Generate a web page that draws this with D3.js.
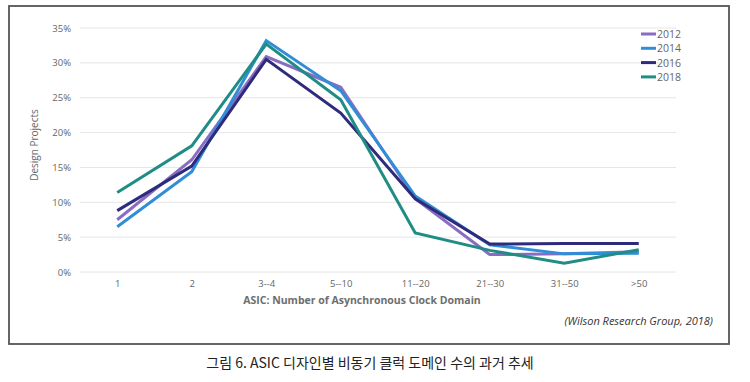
<!DOCTYPE html>
<html><head><meta charset="utf-8">
<script src="https://cdn.jsdelivr.net/npm/d3@7"></script>
<style>body{margin:0;background:#fff}svg{display:block}</style>
</head><body>
<script>
const categories = ["1","2","3--4","5--10","11--20","21--30","31--50",">50"];
const seriesNames = ["2012","2014","2016","2018"];
const v2012 = [7.5,16.1,30.9,26.5,10.5,2.5,2.6,2.9];
const v2014 = [6.5,14.4,33.2,26.0,10.9,3.9,2.6,2.7];
const v2016 = [8.8,15.2,30.5,22.8,10.5,4.0,4.1,4.1];
const v2018 = [11.4,18.1,32.7,24.7,5.6,3.1,1.25,3.2];
const yTicks = [0,5,10,15,20,25,30,35];
const colors = ["#8a6cc2","#2f8ed6","#2e2b7c","#1f8d86"];
const seriesVals = [v2012,v2014,v2016,v2018];

const W=750,H=382;
const svg=d3.select("body").append("svg").attr("width",W).attr("height",H);
svg.append("rect").attr("x",9).attr("y",6).attr("width",720).attr("height",338)
  .attr("fill","#fff").attr("stroke","#555").attr("stroke-width",1.8);

const x=d3.scalePoint().domain(categories).range([80,676]).padding(0.5);
const y=d3.scaleLinear().domain([0,35]).range([272,28]);
const font="'Open Sans', 'DejaVu Sans', sans-serif";

svg.append("g").selectAll("line").data(yTicks).join("line")
  .attr("x1",80).attr("x2",676).attr("y1",d=>y(d)).attr("y2",d=>y(d))
  .attr("stroke","#e6e6e6").attr("stroke-width",1);

const ya=svg.append("g").attr("transform","translate(80,0)")
  .call(d3.axisLeft(y).tickValues(yTicks).tickFormat(d=>d+"%").tickSize(0).tickPadding(9));
ya.select(".domain").remove();
ya.selectAll("text").attr("fill","#666").style("font-family",font).style("font-size","9.5px");

const xa=svg.append("g").attr("transform","translate(0,278)")
  .call(d3.axisBottom(x).tickSize(0).tickPadding(2));
xa.select(".domain").remove();
xa.selectAll("text").attr("fill","#666").style("font-family",font).style("font-size","9.5px");

svg.append("text").attr("x",362).attr("y",304).attr("text-anchor","middle")
  .attr("fill","#6e6e6e").style("font-family",font).style("font-size","10.5px").style("font-weight","bold")
  .text("ASIC: Number of Asynchronous Clock Domain");
svg.append("text").attr("transform","translate(38,145) rotate(-90)").attr("text-anchor","middle")
  .attr("fill","#666").style("font-family",font).style("font-size","10px")
  .text("Design Projects");

const line=d3.line().x((d,i)=>x(categories[i])).y(d=>y(d));
svg.append("g").selectAll("path").data(seriesVals).join("path")
  .attr("d",line).attr("fill","none").attr("stroke",(d,i)=>colors[i])
  .attr("stroke-width",3).attr("stroke-linejoin","miter");

const lg=svg.append("g").selectAll("g").data(seriesNames).join("g")
  .attr("transform",(d,i)=>`translate(641,${34+i*14.3})`);
lg.append("line").attr("x1",0).attr("x2",15).attr("stroke",(d,i)=>colors[i]).attr("stroke-width",3);
lg.append("text").attr("x",16).attr("y",4).attr("fill","#666")
  .style("font-family",font).style("font-size","10.5px").text(d=>d);

svg.append("text").attr("x",713).attr("y",325).attr("text-anchor","end")
  .attr("fill","#333").style("font-family",font).style("font-size","11px").style("font-style","italic")
  .text("(Wilson Research Group, 2018)");

svg.append("text").attr("x",370).attr("y",368).attr("text-anchor","middle")
  .attr("fill","#222").style("font-family","'Noto Sans CJK KR', sans-serif").style("font-size","14px")
  .text("그림 6. ASIC 디자인별 비동기 클럭 도메인 수의 과거 추세");
</script>
</body></html>
